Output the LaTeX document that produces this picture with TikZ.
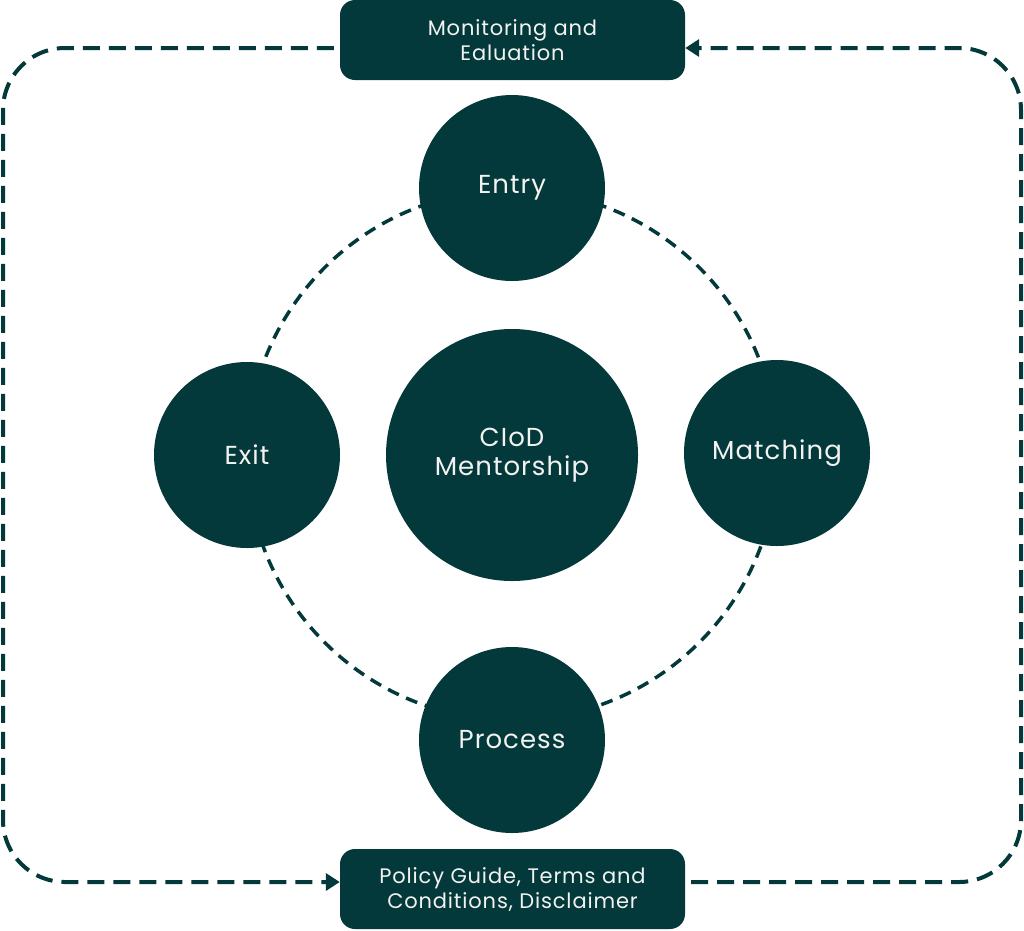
\documentclass[tikz,border=0pt]{standalone}
\usepackage{fontspec}
\setmainfont{Poppins}[LetterSpace=4]
\usetikzlibrary{arrows.meta}
\definecolor{teal}{RGB}{3,57,58}
\definecolor{txt}{RGB}{242,242,240}
\begin{document}
\begin{tikzpicture}[x=1pt,y=-1pt,
  bubble/.style={circle,fill=teal,text=txt,minimum size=186pt,inner sep=0pt,align=center,font=\fontsize{26}{29}\selectfont},
  hub/.style={bubble,minimum size=252pt},
  panel/.style={rectangle,rounded corners=15pt,fill=teal,text=txt,minimum width=345pt,minimum height=80pt,inner sep=0pt,align=center,font=\fontsize{21}{25}\selectfont},
  ring/.style={draw=teal,line width=3.5pt,dash pattern=on 12pt off 8pt},
  loopline/.style={draw=teal,line width=4pt,dash pattern=on 17pt off 9pt,rounded corners=62pt},
  tip/.style={-{Triangle[length=14pt,width=17pt]}}
]
\useasboundingbox (0,0) rectangle (1024,930);
% ring behind
\node[circle,minimum size=530pt,inner sep=0pt] (ringc) at (512,455) {};
\draw[ring] (ringc.center) circle[radius=265pt];
% bubbles
\node[bubble] (entry) at (512,188) {Entry};
\node[bubble] (exit) at (247,455) {Exit};
\node[bubble] (match) at (777,453) {Matching};
\node[bubble] (proc) at (512,740) {Process};
\node[hub] (hub) at (512,455) {CIoD\\Mentorship};
% panels
\node[panel] (mon) at (512.5,40) {Monitoring and\\Ealuation};
\node[panel] (pol) at (512.5,889) {Policy Guide, Terms and\\Conditions, Disclaimer};
% outer loops
\coordinate (a1) at ([shift={(-6,8)}]mon.west);
\coordinate (a2) at ([shift={(0,-7)}]pol.west);
\coordinate (b1) at ([shift={(6,-7)}]pol.east);
\coordinate (b2) at ([shift={(0,8)}]mon.east);
\draw[loopline,tip] (a1) -- (3,48) -- (3,882) -- (a2);
\draw[loopline,tip] (b1) -- (1021,882) -- (1021,48) -- (b2);
\end{tikzpicture}
\end{document}
